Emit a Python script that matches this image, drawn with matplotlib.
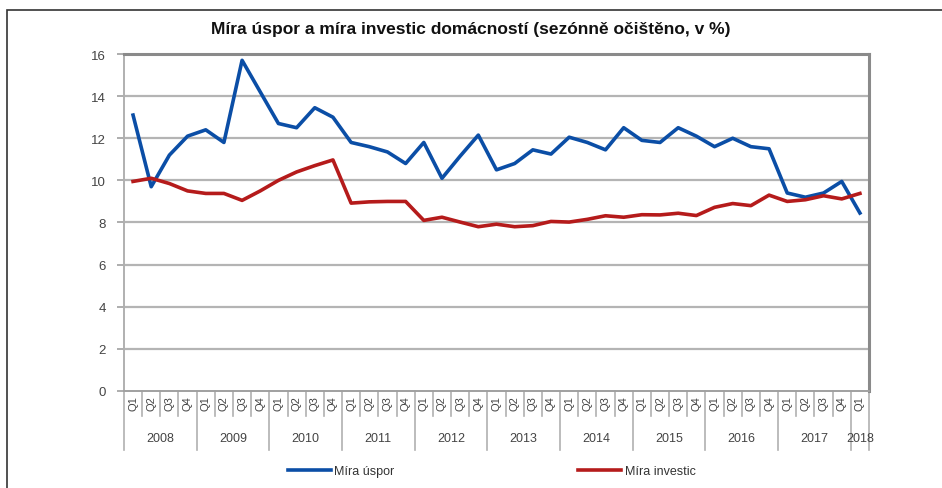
import matplotlib
matplotlib.use("Agg")
import matplotlib.pyplot as plt
from matplotlib.lines import Line2D
from matplotlib.patches import Rectangle

plt.rcParams['font.family'] = ['Liberation Sans', 'DejaVu Sans']

# quarterly data 2008 Q1 .. 2018 Q1
years = ['2008', '2009', '2010', '2011', '2012', '2013', '2014', '2015',
         '2016', '2017', '2018']
quarters = ['Q1', 'Q2', 'Q3', 'Q4']

mira_uspor = [13.1, 9.7, 11.2, 12.1, 12.4, 11.8, 15.7, 14.2, 12.7, 12.5,
              13.45, 13.0, 11.8, 11.6, 11.35, 10.8, 11.8, 10.1, 11.15, 12.15,
              10.5, 10.8, 11.45, 11.25, 12.05, 11.8, 11.45, 12.5, 11.9, 11.8,
              12.5, 12.1, 11.6, 12.0, 11.6, 11.5, 9.4, 9.2, 9.4, 9.95, 8.45]
mira_investic = [9.95, 10.1, 9.85, 9.5, 9.38, 9.38, 9.05, 9.5, 10.0, 10.4,
                 10.7, 10.97, 8.92, 8.98, 9.0, 9.0, 8.1, 8.25, 8.02, 7.8,
                 7.92, 7.8, 7.85, 8.05, 8.02, 8.15, 8.32, 8.25, 8.37, 8.36,
                 8.44, 8.33, 8.72, 8.9, 8.8, 9.3, 9.0, 9.08, 9.27, 9.12, 9.38]

labels = [q for y in years[:-1] for q in quarters] + ['Q1']
x = list(range(len(labels)))

fig = plt.figure(figsize=(9.42, 4.89), dpi=100)
ax = fig.add_axes([0.1316, 0.1984, 0.7909, 0.6891])

# outer frame (left and top edges visible)
fig.patches.append(Rectangle((7 / 942, -0.1), 1.2, 1 - 11 / 489 + 0.1,
                             transform=fig.transFigure, fill=False,
                             edgecolor='#333333', linewidth=1.2))

for v in range(2, 16, 2):
    ax.axhline(v, color='#b4b4b4', linewidth=1.6, zorder=1)

ax.plot(x, mira_uspor, color='#0b4ea6', linewidth=2.6, label='Míra úspor',
        zorder=3)
ax.plot(x, mira_investic, color='#b51b1b', linewidth=2.6,
        label='Míra investic', zorder=3)

ax.set_xlim(-0.5, len(labels) - 0.5)
ax.set_ylim(0, 16)
ax.set_yticks(range(0, 17, 2))
ax.tick_params(axis='y', labelsize=9.5, colors='#444444', length=5,
               width=1.2, color='#a0a0a0', pad=8)
ax.set_xticks(x)
ax.set_xticklabels(labels, rotation=90, fontsize=8, color='#444444')
ax.tick_params(axis='x', length=0, pad=3)

ax.spines['left'].set_color('#b0b0b0')
ax.spines['left'].set_linewidth(1.4)
ax.spines['bottom'].set_color('#a0a0a0')
ax.spines['bottom'].set_linewidth(1.4)
ax.spines['top'].set_color('#8a8a8a')
ax.spines['top'].set_linewidth(2.2)
ax.spines['right'].set_color('#8a8a8a')
ax.spines['right'].set_linewidth(2.2)

# separators between quarters and years
trans = ax.get_xaxis_transform()
for i in range(len(labels) + 1):
    pos = i - 0.5
    low = -0.175 if i % 4 == 0 or i == len(labels) else -0.075
    ax.add_line(Line2D([pos, pos], [0, low], transform=trans, color='#b0b0b0',
                       linewidth=1.2, clip_on=False))

for k, yr in enumerate(years):
    center = 4 * k + 1.5 if yr != '2018' else 4 * k
    ax.text(center, -0.14, yr, transform=trans, ha='center', va='center',
            fontsize=9, color='#444444')

fig.text(0.5, 0.94, 'Míra úspor a míra investic domácností (sezónně očištěno, v %)',
         ha='center', va='center', fontsize=12.5, fontweight='bold',
         color='#111111')

fig.legend(loc='center', bbox_to_anchor=(0.522, 0.035), ncol=2, frameon=False,
           fontsize=9, handlelength=3.4, columnspacing=14.7, handletextpad=0.3,
           labelcolor='#333333')

fig.savefig('out.png', dpi=100)
